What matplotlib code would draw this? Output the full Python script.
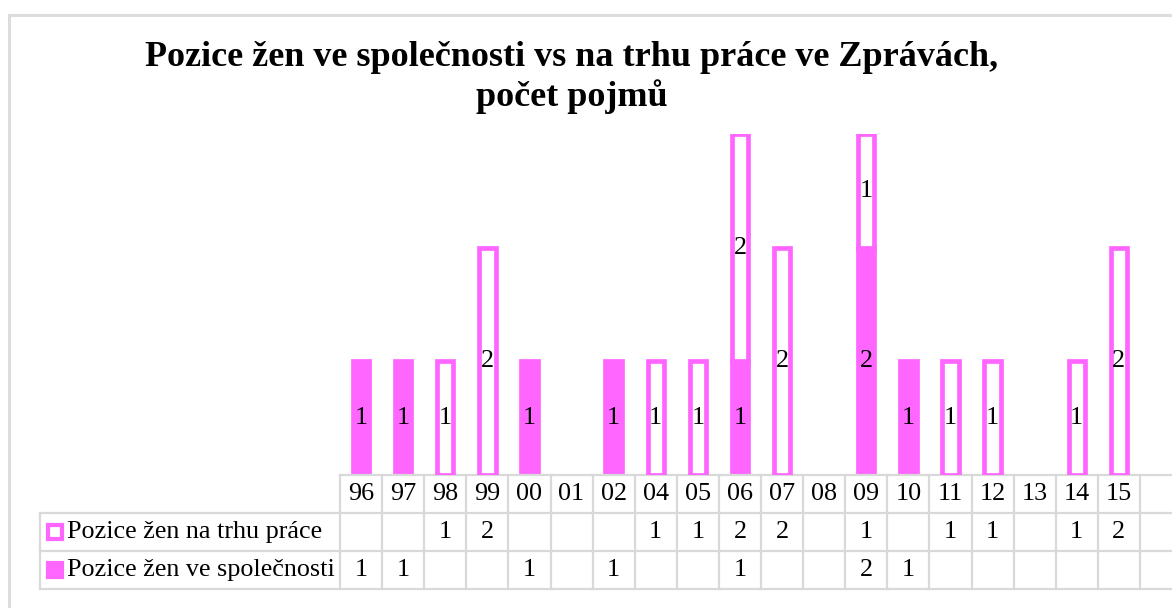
import numpy as np
import matplotlib.pyplot as plt
from matplotlib.patches import Rectangle
from matplotlib.transforms import blended_transform_factory

years = ['96', '97', '98', '99', '00', '01', '02', '04', '05', '06', '07',
         '08', '09', '10', '11', '12', '13', '14', '15', '']
trh_prace = [0, 0, 1, 2, 0, 0, 0, 1, 1, 2, 2, 0, 1, 0, 1, 1, 0, 1, 2, 0]
spolecnost = [1, 1, 0, 0, 1, 0, 1, 0, 0, 1, 0, 0, 2, 1, 0, 0, 0, 0, 0, 0]
series_names = ['Pozice žen na trhu práce', 'Pozice žen ve společnosti']
title = 'Pozice žen ve společnosti vs na trhu práce ve Zprávách,\npočet pojmů'

PINK = '#ff66ff'
GRID = '#d9d9d9'
W, H = 1172, 608  # figure size in px
CELL = 42.1  # px per category
FS = 18.8  # text size of labels and table

plt.rcParams['font.family'] = ['Liberation Serif', 'DejaVu Serif']


def px(x0, y0, w, h):
    """pixel box (from top left) -> figure fractions"""
    return [x0 / W, 1 - (y0 + h) / H, w / W, h / H]


def draw_bars(ax, x, bottom_vals, top_vals):
    x = np.array(x)
    bottom_vals = np.array(bottom_vals)
    top_vals = np.array(top_vals)
    m = bottom_vals > 0
    filled = ax.bar(x[m], bottom_vals[m], width=0.39, color=PINK,
                    edgecolor=PINK, linewidth=3.4, zorder=2)
    ax.bar_label(filled, label_type='center', fontsize=FS)
    m = top_vals > 0
    hollow = ax.bar(x[m], top_vals[m], bottom=bottom_vals[m], width=0.39,
                    color='white', edgecolor=PINK, linewidth=3.4, zorder=3)
    ax.bar_label(hollow, label_type='center', fontsize=FS)


def draw_table(ax, x, rows):
    trans = blended_transform_factory(ax.transData, ax.transAxes)
    rh = 38 / 341  # row height in axes units
    left = -0.5 - 300 / CELL  # left edge of the legend column
    right = len(x) - 0.5
    kw = dict(color=GRID, linewidth=1.6, transform=trans, clip_on=False)

    ax.plot([-0.5, right], [0, 0], **kw)
    for k in range(1, 4):
        ax.plot([left, right], [-k * rh, -k * rh], **kw)
    for i in range(len(x) + 1):
        ax.plot([i - 0.5, i - 0.5], [0, -3 * rh], **kw)
    ax.plot([left, left], [-rh, -3 * rh], **kw)

    for i, lab in zip(x, years):
        ax.text(i, -0.5 * rh, lab, ha='center', va='center', fontsize=FS,
                transform=trans)
    for r, (name, vals, face) in enumerate(rows):
        y = -(r + 1.5) * rh
        ax.plot([left + 15 / CELL], [y], marker='s', markersize=10,
                markerfacecolor=face, markeredgecolor=PINK,
                markeredgewidth=3, transform=trans, clip_on=False)
        ax.text(left + 27 / CELL, y, name, ha='left', va='center',
                fontsize=FS, transform=trans)
        for i, v in zip(x, vals):
            if v:
                ax.text(i, y, str(v), ha='center', va='center', fontsize=FS,
                        transform=trans)


fig = plt.figure(figsize=(W / 100, H / 100), dpi=100)
ax = fig.add_axes(px(340, 134, CELL * len(years), 341))
x = np.arange(len(years))

draw_bars(ax, x, spolecnost, trh_prace)
draw_table(ax, x, [(series_names[0], trh_prace, 'white'),
                   (series_names[1], spolecnost, PINK)])

ax.set_xlim(-0.5, len(years) - 0.5)
ax.set_ylim(0, 3)
ax.axis('off')

fig.text(572 / W, 1 - 41 / H, title, ha='center', va='top', fontsize=26,
         fontweight='bold', linespacing=1.2)
fig.add_artist(Rectangle((9 / W, -0.1), 1.2, 1.1 - 15 / H, fill=False,
                         edgecolor='#dddddd', linewidth=2.2,
                         transform=fig.transFigure))

fig.savefig('out.png', dpi=100)
